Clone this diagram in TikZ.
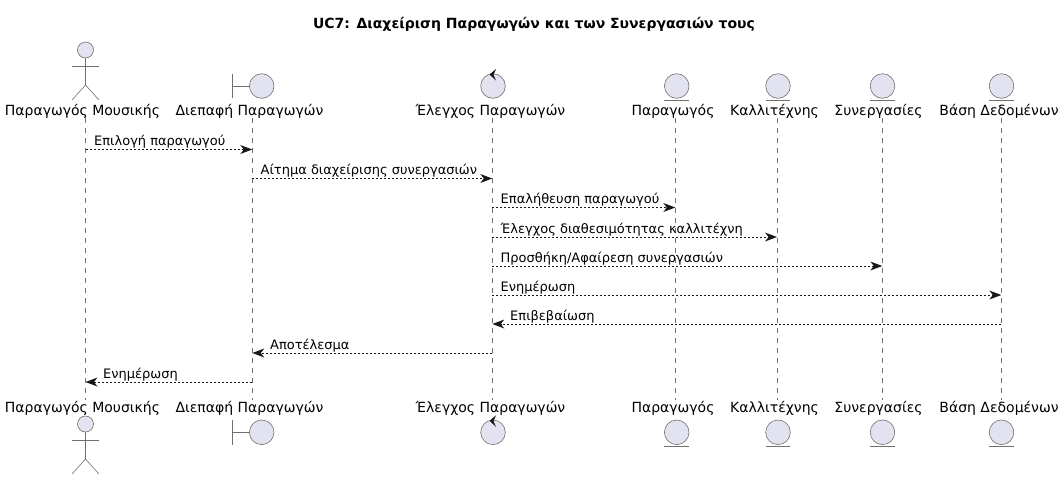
\documentclass[tikz,border=0pt]{standalone}
\usepackage{fontspec}
\setmainfont{DejaVu Sans}
\usetikzlibrary{arrows.meta}
\definecolor{pfill}{HTML}{E2E2F0}
\definecolor{pline}{HTML}{181818}
\tikzset{
  x=1pt,y=-1pt,
  pname/.style={anchor=base,inner sep=0pt,font=\fontsize{14}{16}\selectfont,text=black},
  mlabel/.style={anchor=base west,inner sep=0pt,font=\fontsize{13}{15}\selectfont,text=black},
  titletext/.style={anchor=base,inner sep=0pt,font=\fontsize{14}{16}\bfseries\selectfont,text=black},
  lifeline/.style={draw=pline!62!white,line width=0.6pt,dash pattern=on 5pt off 5pt},
  message/.style={draw=pline,line width=0.55pt,dash pattern=on 2pt off 2pt,-{Stealth[length=12pt,width=9pt,inset=3.5pt,fill=pline,line width=0pt]}},
  glyph/.style={draw=pline!62!white,line width=0.6pt},
  disc/.style={draw=pline!62!white,line width=0.6pt,fill=pfill},
  ctrltip/.style={fill=pline,draw=none}
}
\newcommand{\actorglyph}[2]{% x, head centre y
  \draw[disc] (#1,#2) circle[radius=8];
  \draw[glyph] (#1,#2+8) -- (#1,#2+35);
  \draw[glyph] (#1-13.5,#2+16) -- (#1+13.5,#2+16);
  \draw[glyph] (#1-13.5,#2+50) -- (#1,#2+35) -- (#1+13.5,#2+50);
}
\newcommand{\boundaryglyph}[2]{% circle centre
  \draw[disc] (#1,#2) circle[radius=12.3];
  \draw[glyph] (#1-29.5,#2-12.3) -- (#1-29.5,#2+12.3);
  \draw[glyph] (#1-29.5,#2) -- (#1-12.3,#2);
}
\newcommand{\controlglyph}[2]{%
  \draw[disc] (#1,#2) circle[radius=12.3];
  \fill[ctrltip] (#1-3.5,#2-11.5) -- (#1+3,#2-17) -- (#1+0.5,#2-11) -- (#1+3,#2-5.5) -- cycle;
}
\newcommand{\entityglyph}[2]{%
  \draw[disc] (#1,#2) circle[radius=12.3];
  \draw[glyph] (#1-12.3,#2+14) -- (#1+12.3,#2+14);
}
\begin{document}
\begin{tikzpicture}
\useasboundingbox (0,0) rectangle (1064,480);
\node[titletext] (title) at (534,28) {UC7: Διαχείριση Παραγωγών και των Συνεργασιών τους};

% lifeline ends
\foreach \n/\x in {1/85.5,2/252.3,3/492.3,4/675.3,5/777,6/882.3,7/1001.3}{
  \coordinate (s\n) at (\x,118);
  \coordinate (e\n) at (\x,400);
  \draw[lifeline] (s\n) -- (e\n);
}

% participant names, top and bottom
\node[pname] (t1) at (82.5,115.7) {Παραγωγός Μουσικής};
\node[pname] (t2) at (249.5,115.7) {Διεπαφή Παραγωγών};
\node[pname] (t3) at (490.5,115.7) {Έλεγχος Παραγωγών};
\node[pname] (t4) at (673,115.7) {Παραγωγός};
\node[pname] (t5) at (774.5,115.7) {Καλλιτέχνης};
\node[pname] (t6) at (878.5,115.7) {Συνεργασίες};
\node[pname] (t7) at (999,115.7) {Βάση Δεδομένων};
\node[pname] (b1) at (82.5,412.7) {Παραγωγός Μουσικής};
\node[pname] (b2) at (249.5,412.7) {Διεπαφή Παραγωγών};
\node[pname] (b3) at (490.5,412.7) {Έλεγχος Παραγωγών};
\node[pname] (b4) at (673,412.7) {Παραγωγός};
\node[pname] (b5) at (774.5,412.7) {Καλλιτέχνης};
\node[pname] (b6) at (878.5,412.7) {Συνεργασίες};
\node[pname] (b7) at (999,412.7) {Βάση Δεδομένων};

% glyphs
\actorglyph{85.5}{50}
\boundaryglyph{261.7}{86}
\controlglyph{493}{86}
\entityglyph{676.7}{86}
\entityglyph{778}{86}
\entityglyph{882.5}{86}
\entityglyph{1001.5}{86}
\actorglyph{85.5}{424}
\boundaryglyph{261.7}{432.3}
\controlglyph{493}{432.3}
\entityglyph{676.7}{432.3}
\entityglyph{778}{432.3}
\entityglyph{882.5}{432.3}
\entityglyph{1001.5}{432.3}

% messages
\newcommand{\msg}[5]{% from, to, y, label x, text
  \coordinate (ma) at (s#1|-0,#3);
  \coordinate (mb) at (s#2|-0,#3);
  \draw[message] (ma) -- (mb);
  \node[mlabel] at (#4,#3-4) {#5};
}
\msg{1}{2}{149.5}{94}{Επιλογή παραγωγού}
\msg{2}{3}{178.5}{260.5}{Αίτημα διαχείρισης συνεργασιών}
\msg{3}{4}{207.5}{500.5}{Επαλήθευση παραγωγού}
\msg{3}{5}{237}{500.5}{Έλεγχος διαθεσιμότητας καλλιτέχνη}
\msg{3}{6}{266}{500.5}{Προσθήκη/Αφαίρεση συνεργασιών}
\msg{3}{7}{295}{500.5}{Ενημέρωση}
\msg{7}{3}{324}{510}{Επιβεβαίωση}
\msg{3}{2}{353}{270}{Αποτέλεσμα}
\msg{2}{1}{382}{103}{Ενημέρωση}
\end{tikzpicture}
\end{document}
